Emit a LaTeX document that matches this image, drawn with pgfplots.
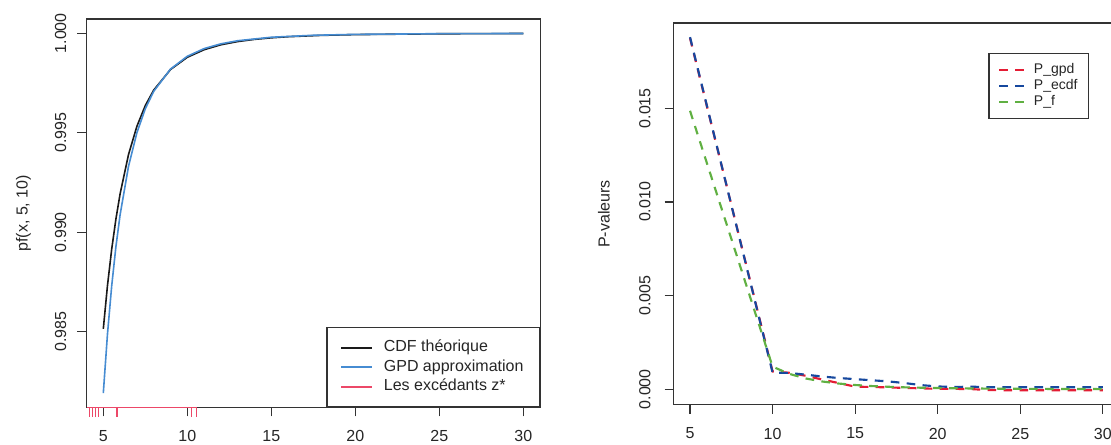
\documentclass[border=0pt]{standalone}
\usepackage{fontspec}
\setmainfont{Liberation Sans}
\usepackage{pgfplots}
\pgfplotsset{compat=1.18}

\definecolor{framegray}{HTML}{333333}
\definecolor{cdfblack}{HTML}{1A1A1A}
\definecolor{gpdblue}{RGB}{70,140,210}
\definecolor{rugred}{RGB}{236,72,104}
\definecolor{pred}{RGB}{228,28,52}
\definecolor{pblue}{RGB}{22,72,158}
\definecolor{pgreen}{RGB}{96,176,66}

\pgfplotsset{
  rbase/.style={
    scale only axis,
    anchor=south west,
    xmin=4, xmax=31,
    xtick={5,10,15,20,25,30},
    tick pos=left,
    tick align=outside,
    major tick length=6.75pt,
    every tick/.style={framegray, line width=0.9pt},
    axis line style={framegray, line width=0.9pt},
    tick label style={font=\fontsize{12}{14}\selectfont, text=black!85},
    label style={font=\fontsize{12}{14}\selectfont, text=black!85},
    /pgf/number format/assume math mode=true,
    scaled ticks=false,
    xticklabel shift=7pt,
    yticklabel style={rotate=90, anchor=south},
    legend cell align=left,
  },
  pline/.style={line width=1.6pt, dash pattern=on 6.5pt off 5.5pt},
}

\begin{document}
\begin{tikzpicture}
\path[use as bounding box, clip] (0,0) rectangle (833.25pt,333.75pt);
\fill[white] (0,0) rectangle (833.25pt,333.75pt);

% ---------- left: theoretical F(5,10) CDF and GPD approximation ----------
\begin{axis}[rbase, at={(64.875pt,28.125pt)}, width=340.2pt, height=291.375pt,
  ymin=0.98118, ymax=1.00072,
  ytick={0.985,0.990,0.995,1.000},
  yticklabels={0.985,0.990,0.995,1.000},
  yticklabel shift=4.9pt,
  ylabel={pf(x, 5, 10)},
  ylabel style={at={(axis description cs:-0.139,0.5)}, anchor=center},
  clip=false,
  legend style={at={(axis description cs:1,0)}, anchor=south east,
    draw=framegray, line width=0.9pt, fill=white,
    font=\fontsize{12}{14}\selectfont,
    inner xsep=10pt, inner ysep=7.8pt, column sep=6.5pt, row sep=0pt,
    nodes={inner sep=2pt, text height=8.2pt, text depth=2.4pt, text=black!85}},
  legend image code/.code={\draw[#1] (0pt,0pt) -- (23pt,0pt);},
]
\addplot[cdfblack, line width=1.2pt] coordinates {
  (5,0.985133) (5.25,0.987324) (5.5,0.989142) (5.75,0.990654) (6,0.991925)
  (6.5,0.993899) (7,0.995323) (7.5,0.996365) (8,0.997142) (9,0.998178)
  (10,0.998794) (11,0.999175) (12,0.999424) (13,0.999585) (14,0.999695)
  (15,0.999773) (16,0.999829) (18,0.999897) (20,0.999935) (25,0.999977)
  (30,0.999990)};
\addlegendentry{CDF théorique}
\addplot[gpdblue, line width=1.2pt] coordinates {
  (5,0.98190) (5.25,0.984884) (5.5,0.987296) (5.75,0.989262) (6,0.990872)
  (6.5,0.993306) (7,0.995000) (7.5,0.996207) (8,0.997080) (9,0.998201)
  (10,0.998844) (11,0.999230) (12,0.999471) (13,0.999627) (15,0.999802)
  (17.5,0.999901) (20,0.999946) (25,0.999981) (30,0.999992)};
\addlegendentry{GPD approximation}
\addlegendimage{rugred, line width=1.2pt}
\addlegendentry{Les excédants z*}
% rug of the exceedances
\addplot[rugred, line width=0.9pt, forget plot] coordinates {(4.05,0.98118) (10.56,0.98118)};
\addplot[rugred, only marks, mark=|, mark size=3.75pt, forget plot,
  mark options={yshift=-3.75pt, line width=0.8pt}] coordinates {
  (4.17,0.98118) (4.35,0.98118) (4.52,0.98118) (4.70,0.98118)
  (5.76,0.98118) (5.87,0.98118) (10.26,0.98118) (10.56,0.98118)};
\end{axis}

% ---------- right: p-values by threshold ----------
\begin{axis}[rbase, at={(505.125pt,30.075pt)}, width=334.425pt, height=286.425pt,
  ymin=-0.000835, ymax=0.019555,
  ytick={0,0.005,0.010,0.015},
  yticklabels={0.000,0.005,0.010,0.015},
  yticklabel shift=6.9pt,
  ylabel={P-valeurs},
  ylabel style={at={(axis description cs:-0.156,0.5)}, anchor=center},
  legend style={at={(axis description cs:0.706,0.9207)}, anchor=north west,
    draw=framegray, line width=0.9pt, fill=white,
    font=\fontsize{10.5}{12}\selectfont,
    inner xsep=6.85pt, inner ysep=6pt, column sep=5.2pt, row sep=0pt,
    nodes={inner sep=1.4pt, text height=7.2pt, text depth=2.1pt, text=black!85}},
  legend image code/.code={\draw[#1] (0pt,0pt) -- (18.75pt,0pt);},
]
\addplot[pred, pline] coordinates {
  (5,0.01875) (10,0.00095) (11,0.00088) (12,0.00072) (13,0.00052) (14,0.00033)
  (15,0.00014) (16,0.00012) (17,0.00010) (18,0.00007) (19,0.00005) (20,0.00002)
  (21,0.00002) (22,0.00001) (23,-0.00004) (24,-0.00005) (25,-0.00005)
  (26,-0.00005) (27,-0.00005) (28,-0.00005) (29,-0.00005) (30,-0.00005)};
\addlegendentry{P\_gpd}
\addplot[pblue, pline] coordinates {
  (5,0.0188) (10,0.00089) (11,0.00087) (12,0.00078) (13,0.00068) (14,0.00060)
  (15,0.00054) (16,0.00048) (17,0.00042) (18,0.00033) (19,0.00022) (20,0.00015)
  (21,0.00012) (22,0.00014) (23,0.00011) (24,0.00011) (25,0.00011)
  (26,0.00011) (27,0.00011) (28,0.00011) (29,0.00011) (30,0.00011)};
\addlegendentry{P\_ecdf}
\addplot[pgreen, pline] coordinates {
  (5,0.014867) (10,0.001206) (11,0.000825) (12,0.000576) (13,0.000415)
  (14,0.000305) (15,0.000227) (16,0.000171) (17,0.000133) (18,0.000103)
  (19,0.000082) (20,0.000065) (21,0.000052) (22,0.000042) (23,0.000035)
  (24,0.000028) (25,0.000023) (26,0.000019) (27,0.000016) (28,0.000013)
  (29,0.000011) (30,0.0000095)};
\addlegendentry{P\_f}
\end{axis}
\end{tikzpicture}
\end{document}
